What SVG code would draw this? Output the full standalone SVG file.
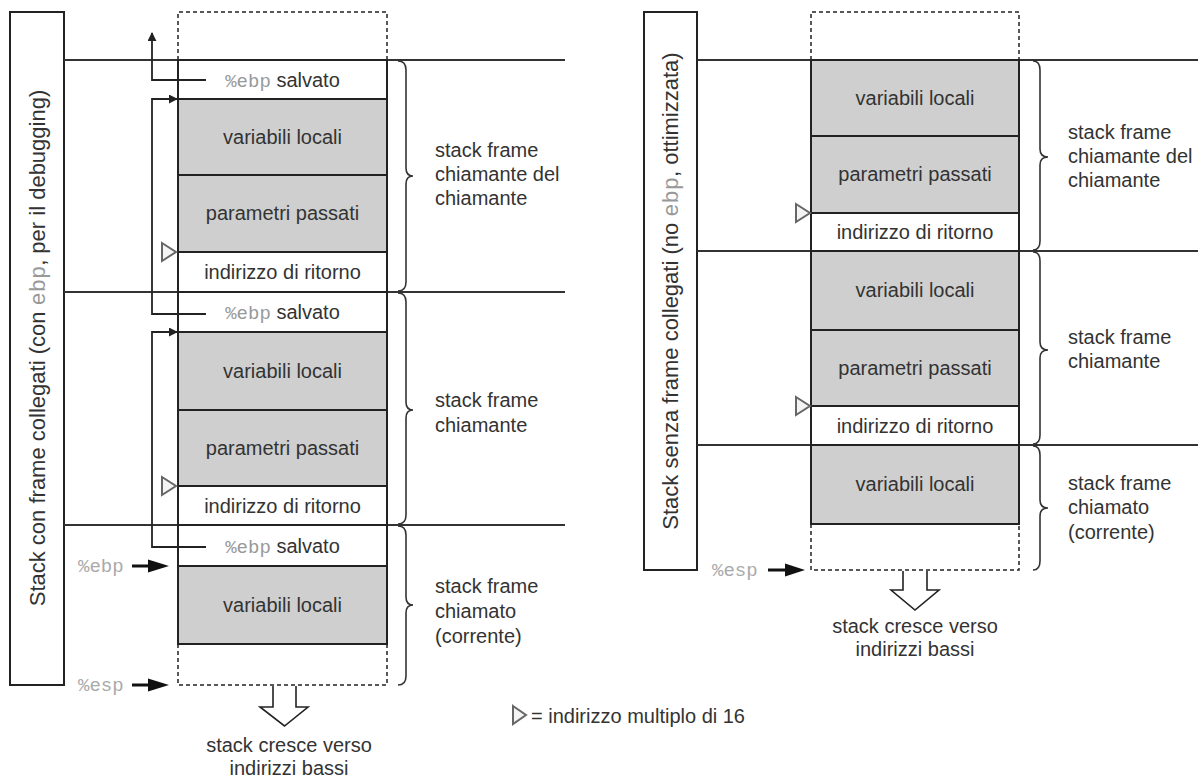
<svg xmlns="http://www.w3.org/2000/svg" width="1198" height="778" viewBox="0 0 1198 778">
<defs>
<style>
.t{font-family:"Liberation Sans",Arial,sans-serif;font-size:20px;fill:#333}
.c{text-anchor:middle}
.lbl{font-family:"Liberation Sans",Arial,sans-serif;font-size:22px;fill:#333;text-anchor:middle}
.m{font-family:"Liberation Mono","Courier New",monospace;fill:#999}
.ml{font-family:"Liberation Mono","Courier New",monospace;font-size:19px;fill:#aaa}
.box{fill:#fff;stroke:#222;stroke-width:2}
.g{fill:#cfcfcf;stroke:#222;stroke-width:2}
.w{fill:#fff;stroke:#222;stroke-width:2}
.dash{fill:none;stroke:#222;stroke-width:1.5;stroke-dasharray:4 3}
.hl{stroke:#333;stroke-width:2;fill:none}
.br{fill:none;stroke:#333;stroke-width:1.6}
.tri{fill:#f4f4f4;stroke:#666;stroke-width:2}
.conn{fill:none;stroke:#222;stroke-width:1.8}
.hollow{fill:#fff;stroke:#222;stroke-width:1.6}
</style>
<marker id="ah" viewBox="0 0 10 10" refX="9" refY="5" markerWidth="5" markerHeight="5" orient="auto" markerUnits="strokeWidth">
<path d="M0,0 L10,5 L0,10 z" fill="#222"/>
</marker>
</defs>
<rect width="1198" height="778" fill="#fff"/>

<!-- LEFT DIAGRAM -->
<g id="left-label">
<rect class="box" x="10" y="12" width="54" height="673"/>
<text class="lbl" transform="translate(45,348) rotate(-90)">Stack con frame collegati (con <tspan class="m">ebp</tspan>, per il debugging)</text>
</g>
<g id="left-frame-lines">
<line class="hl" x1="64" y1="60" x2="565" y2="60"/>
<line class="hl" x1="64" y1="292" x2="565" y2="292"/>
<line class="hl" x1="64" y1="525" x2="565" y2="525"/>
</g>
<g id="left-stack">
<path class="dash" d="M178,60 V12 H387 V60"/>
<path class="dash" d="M178,644 V685 H387 V644"/>
<g id="l-ebp1"><rect class="w" x="178" y="60" width="209" height="39"/><text class="t c" x="282.5" y="87"><tspan class="m" font-size="19">%ebp</tspan> salvato</text></g>
<g id="l-var1"><rect class="g" x="178" y="99" width="209" height="76"/><text class="t c" x="282.5" y="144">variabili locali</text></g>
<g id="l-par1"><rect class="g" x="178" y="175" width="209" height="77"/><text class="t c" x="282.5" y="220">parametri passati</text></g>
<g id="l-ret1"><rect class="w" x="178" y="252" width="209" height="40"/><text class="t c" x="282.5" y="279">indirizzo di ritorno</text></g>
<g id="l-ebp2"><rect class="w" x="178" y="292" width="209" height="40"/><text class="t c" x="282.5" y="319"><tspan class="m" font-size="19">%ebp</tspan> salvato</text></g>
<g id="l-var2"><rect class="g" x="178" y="332" width="209" height="78"/><text class="t c" x="282.5" y="378">variabili locali</text></g>
<g id="l-par2"><rect class="g" x="178" y="410" width="209" height="76"/><text class="t c" x="282.5" y="455">parametri passati</text></g>
<g id="l-ret2"><rect class="w" x="178" y="486" width="209" height="39"/><text class="t c" x="282.5" y="513">indirizzo di ritorno</text></g>
<g id="l-ebp3"><rect class="w" x="178" y="525" width="209" height="41"/><text class="t c" x="282.5" y="553"><tspan class="m" font-size="19">%ebp</tspan> salvato</text></g>
<g id="l-var3"><rect class="g" x="178" y="566" width="209" height="78"/><text class="t c" x="282.5" y="612">variabili locali</text></g>
</g>
<g id="left-markers">
<polygon class="tri" points="162,243 176,252 162,261"/>
<polygon class="tri" points="162,477 176,486 162,495"/>
</g>
<g id="left-braces">
<path class="br" d="M398,61 Q406,61 406,70 V168 Q406,176 413,176 Q406,176 406,184 V282 Q406,291 398,291"/>
<path class="br" d="M398,293 Q406,293 406,302 V402 Q406,410 413,410 Q406,410 406,418 V515 Q406,524 398,524"/>
<path class="br" d="M398,526 Q406,526 406,535 V597 Q406,605 413,605 Q406,605 406,613 V676 Q406,685 398,685"/>
<text class="t" x="435" y="157">stack frame</text>
<text class="t" x="435" y="181">chiamante del</text>
<text class="t" x="435" y="205">chiamante</text>
<text class="t" x="435" y="407">stack frame</text>
<text class="t" x="435" y="432">chiamante</text>
<text class="t" x="435" y="593">stack frame</text>
<text class="t" x="435" y="618">chiamato</text>
<text class="t" x="435" y="643">(corrente)</text>
</g>
<g id="left-pointers">
<text class="ml" x="78" y="572">%ebp</text>
<line x1="132" y1="566" x2="150" y2="566" stroke="#111" stroke-width="3"/>
<polygon points="148,559.5 169,566 148,572.5" fill="#111"/>
<text class="ml" x="78" y="691">%esp</text>
<line x1="132" y1="685" x2="150" y2="685" stroke="#111" stroke-width="3"/>
<polygon points="148,678.5 169,685 148,691.5" fill="#111"/>
</g>
<g id="left-grow">
<path class="hollow" d="M273,686 V707 H260 L284.5,726 L308,707 H296 V686"/>
<text class="t c" x="289" y="752">stack cresce verso</text>
<text class="t c" x="289" y="775">indirizzi bassi</text>
</g>
<g id="connectors">
<path class="conn" d="M206,80 H152 V33" marker-end="url(#ah)"/>
<path class="conn" d="M206,314 H152 V99 H177" marker-end="url(#ah)"/>
<path class="conn" d="M206,547 H152 V332 H177" marker-end="url(#ah)"/>
</g>

<!-- RIGHT DIAGRAM -->
<g id="right-label">
<rect class="box" x="644" y="12" width="53" height="558"/>
<text class="lbl" transform="translate(678,291) rotate(-90)">Stack senza frame collegati (no <tspan class="m">ebp</tspan>, ottimizzata)</text>
</g>
<g id="right-frame-lines">
<line class="hl" x1="697" y1="60" x2="1198" y2="60"/>
<line class="hl" x1="697" y1="251" x2="1198" y2="251"/>
<line class="hl" x1="697" y1="445" x2="1198" y2="445"/>
</g>
<g id="right-stack">
<path class="dash" d="M811,60 V12 H1019 V60"/>
<path class="dash" d="M811,524 V570 H1019 V524"/>
<g id="r-var1"><rect class="g" x="811" y="60" width="208" height="76"/><text class="t c" x="915" y="105">variabili locali</text></g>
<g id="r-par1"><rect class="g" x="811" y="136" width="208" height="77"/><text class="t c" x="915" y="181">parametri passati</text></g>
<g id="r-ret1"><rect class="w" x="811" y="213" width="208" height="38"/><text class="t c" x="915" y="239">indirizzo di ritorno</text></g>
<g id="r-var2"><rect class="g" x="811" y="251" width="208" height="79"/><text class="t c" x="915" y="297">variabili locali</text></g>
<g id="r-par2"><rect class="g" x="811" y="330" width="208" height="76"/><text class="t c" x="915" y="375">parametri passati</text></g>
<g id="r-ret2"><rect class="w" x="811" y="406" width="208" height="39"/><text class="t c" x="915" y="433">indirizzo di ritorno</text></g>
<g id="r-var3"><rect class="g" x="811" y="445" width="208" height="79"/><text class="t c" x="915" y="491">variabili locali</text></g>
</g>
<g id="right-markers">
<polygon class="tri" points="796,204 810,213 796,222"/>
<polygon class="tri" points="796,397 810,406 796,415"/>
</g>
<g id="right-braces">
<path class="br" d="M1033,61 Q1040,61 1040,70 V149 Q1040,157 1048,157 Q1040,157 1040,165 V241 Q1040,250 1033,250"/>
<path class="br" d="M1033,252 Q1040,252 1040,261 V342 Q1040,350 1048,350 Q1040,350 1040,358 V435 Q1040,444 1033,444"/>
<path class="br" d="M1033,446 Q1040,446 1040,455 V500 Q1040,508 1048,508 Q1040,508 1040,516 V561 Q1040,570 1033,570"/>
<text class="t" x="1068" y="139">stack frame</text>
<text class="t" x="1068" y="163">chiamante del</text>
<text class="t" x="1068" y="187">chiamante</text>
<text class="t" x="1068" y="344">stack frame</text>
<text class="t" x="1068" y="368">chiamante</text>
<text class="t" x="1068" y="490">stack frame</text>
<text class="t" x="1068" y="514">chiamato</text>
<text class="t" x="1068" y="539">(corrente)</text>
</g>
<g id="right-pointers">
<text class="ml" x="712" y="576">%esp</text>
<line x1="768" y1="570" x2="787" y2="570" stroke="#111" stroke-width="3"/>
<polygon points="785,563.5 805,570 785,576.5" fill="#111"/>
</g>
<g id="right-grow">
<path class="hollow" d="M903,571 V590 H891 L915,610 L939,590 H927 V571"/>
<text class="t c" x="915" y="633">stack cresce verso</text>
<text class="t c" x="915" y="656">indirizzi bassi</text>
</g>

<g id="legend">
<polygon class="tri" points="513,706 526,715 513,724"/>
<text class="t" x="531" y="723">= indirizzo multiplo di 16</text>
</g>
</svg>
